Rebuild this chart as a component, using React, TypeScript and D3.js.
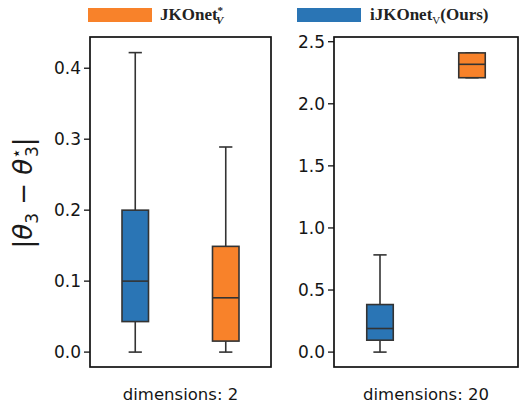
import React from "react";
import * as d3 from "d3";

// box stats per panel: [min, q1, median, q3, max]
const methods = ["iJKOnet", "JKOnet*"];
const panelLabels = ["dimensions: 2", "dimensions: 20"];
const statsDim2 = [
  [0, 0.043, 0.1, 0.2, 0.422],
  [0, 0.0155, 0.0765, 0.149, 0.289],
];
const statsDim20 = [
  [0, 0.096, 0.19, 0.383, 0.783],
  [2.21, 2.21, 2.318, 2.41, 2.41],
];
const ticksDim2 = [0, 0.1, 0.2, 0.3, 0.4];
const ticksDim20 = [0, 0.5, 1.0, 1.5, 2.0, 2.5];
const colors = { iJKOnet: "#2a75b5", "JKOnet*": "#f8822a" };

const W = 519;
const H = 404;
const top = 37;
const bottom = 367;
const edge = "#333";
const tickFont = "DejaVu Sans, sans-serif";

function Panel({ x0, x1, domain, stats, ticks, label }) {
  const y = d3.scaleLinear().domain(domain).range([bottom, top]);
  const x = d3.scalePoint().domain(methods).range([x0, x1]).padding(0.5);
  const bw = 26.5;
  const capW = bw / 2;
  const fmt = d3.format(".1f");
  return (
    <g>
      {ticks.map((t) => (
        <g key={t}>
          <line x1={x0 - 6} x2={x0} y1={y(t)} y2={y(t)} stroke="#111" strokeWidth={1.3} />
          <text x={x0 - 9} y={y(t)} dy="0.36em" textAnchor="end" fontSize={17} fontFamily={tickFont} fill="#151515">
            {fmt(t)}
          </text>
        </g>
      ))}
      {stats.map((s, i) => {
        const m = methods[i];
        const cx = x(m);
        const [mn, q1, med, q3, mx] = s;
        return (
          <g key={m}>
            <line x1={cx} x2={cx} y1={y(mn)} y2={y(q1)} stroke={edge} strokeWidth={1.6} />
            <line x1={cx} x2={cx} y1={y(q3)} y2={y(mx)} stroke={edge} strokeWidth={1.6} />
            <line x1={cx - capW / 2} x2={cx + capW / 2} y1={y(mn)} y2={y(mn)} stroke={edge} strokeWidth={1.6} />
            <line x1={cx - capW / 2} x2={cx + capW / 2} y1={y(mx)} y2={y(mx)} stroke={edge} strokeWidth={1.6} />
            <rect x={cx - bw / 2} y={y(q3)} width={bw} height={y(q1) - y(q3)} fill={colors[m]} stroke={edge} strokeWidth={1.6} />
            <line x1={cx - bw / 2} x2={cx + bw / 2} y1={y(med)} y2={y(med)} stroke={edge} strokeWidth={1.6} />
          </g>
        );
      })}
      <rect x={x0} y={top} width={x1 - x0} height={bottom - top} fill="none" stroke="#111" strokeWidth={1.7} />
      <text x={(x0 + x1) / 2} y={400} textAnchor="middle" fontSize={16.5} fontFamily={tickFont} fill="#151515">
        {label}
      </text>
    </g>
  );
}

export default function App() {
  const serif = "Liberation Serif, DejaVu Serif, serif";
  return (
    <svg width={W} height={H} style={{ position: "absolute", left: 0, top: 0 }}>
      <rect width={W} height={H} fill="#fff" />
      {/* legend */}
      <rect x={88} y={8} width={64} height={14} fill={colors["JKOnet*"]} />
      <text x={160} y={20} fontFamily={serif} fontSize={17} fontWeight="bold" fill="#222">
        JKOnet
        <tspan fontSize={11} dy={-6}>*</tspan>
      </text>
      <text x={216} y={24} fontFamily={serif} fontSize={11} fontStyle="italic" fontWeight="bold" fill="#222">V</text>
      <rect x={297} y={8} width={64} height={14} fill={colors.iJKOnet} />
      <text x={370} y={20} fontFamily={serif} fontSize={17} fill="#222">
        <tspan fontWeight="bold">iJKOnet</tspan>
        <tspan fontSize={11} dy={4}>V</tspan>
        <tspan dy={-4} fontWeight="bold">(Ours)</tspan>
      </text>
      {/* y label */}
      <g transform="translate(32,193) rotate(-90)">
        <text textAnchor="middle" fontFamily="DejaVu Sans, sans-serif" fontSize={26} fill="#1a1a1a">
          |<tspan fontStyle="italic">θ</tspan>
          <tspan fontSize={17} dy={6}>3</tspan>
          <tspan dy={-6}> − </tspan>
          <tspan fontStyle="italic">θ</tspan>
          <tspan fontSize={17} dy={-10}>⋆</tspan>
          <tspan fontSize={17} dx={-9} dy={16}>3</tspan>
          <tspan dy={-6}>|</tspan>
        </text>
      </g>
      <Panel x0={90} x1={271} domain={[-0.021, 0.444]} stats={statsDim2} ticks={ticksDim2} label={panelLabels[0]} />
      <Panel x0={334} x1={518} domain={[-0.12, 2.538]} stats={statsDim20} ticks={ticksDim20} label={panelLabels[1]} />
    </svg>
  );
}
